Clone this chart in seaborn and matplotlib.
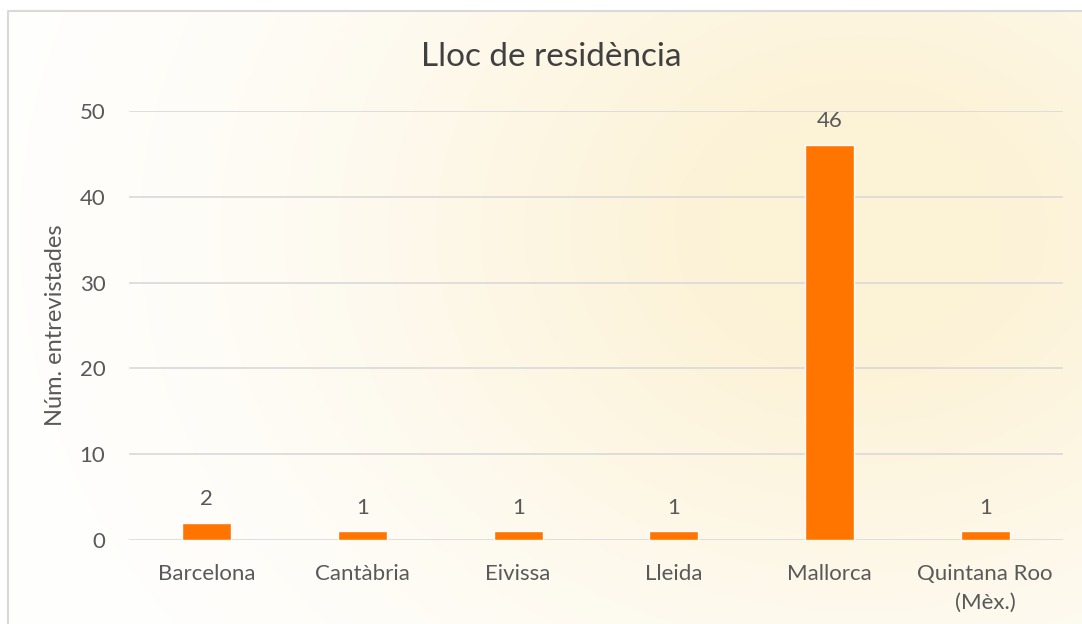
import numpy as np
import pandas as pd
import matplotlib
matplotlib.use("Agg")
import matplotlib.pyplot as plt
import seaborn as sns

llocs = ["Barcelona", "Cantàbria", "Eivissa", "Lleida", "Mallorca", "Quintana Roo\n(Mèx.)"]
entrevistades = [2, 1, 1, 1, 46, 1]
y_ticks = [0, 10, 20, 30, 40, 50]

sns.set_theme(style="white")
plt.rcParams["font.family"] = ["Lato", "DejaVu Sans"]

gris = "#595959"
taronja = "#FF7500"

W, H = 1082, 624
fig = plt.figure(figsize=(W / 100, H / 100), dpi=100)
fig.patch.set_facecolor("white")

# fons amb degradat (caixa del gràfic)
bg = fig.add_axes([0, 0, 1, 1], zorder=0)
bg.set_xlim(0, W)
bg.set_ylim(H, 0)
bg.axis("off")
xx, yy = np.meshgrid(np.arange(W), np.arange(H))
w = np.exp(-(((xx - 860) / 520.0) ** 2 + ((yy - 230) / 420.0) ** 2))
w = np.clip(w * 1.05, 0, 1)
crema = np.array([252, 242, 214]) / 255.0
img = 1 - w[..., None] * (1 - crema)
img[:11, :] = 1
img[:, :8] = 1
bg.imshow(img, extent=(0, W, H, 0), aspect="auto")
bg.plot([8, 8, W], [H, 11, 11], color="#D9D9D9", lw=1.5)

df = pd.DataFrame({"lloc": llocs, "n": entrevistades})

ax = fig.add_axes([129 / W, 1 - 540 / H, (1063 - 129) / W, (540 - 111) / H], zorder=1)
ax.patch.set_alpha(0)
sns.barplot(data=df, x="lloc", y="n", color=taronja, width=0.315,
            saturation=1, ax=ax, zorder=3)

ax.set_ylim(0, 50)
ax.set_xlim(-0.5, len(llocs) - 0.5)
ax.set_yticks(y_ticks)
ax.yaxis.grid(True, color="#D9D9D9", lw=1.2, zorder=0)
ax.set_axisbelow(True)
for s in ax.spines.values():
    s.set_visible(False)
ax.tick_params(axis="both", length=0, colors=gris, labelsize=16)
ax.tick_params(axis="x", pad=17)
ax.tick_params(axis="y", pad=17)
for lab in ax.get_xticklabels():
    lab.set_linespacing(1.6)

for i, v in enumerate(entrevistades):
    ax.annotate(str(v), (i, v), xytext=(0, 10), textcoords="offset points",
                ha="center", va="bottom", color=gris, fontsize=16)

ax.set_xlabel("")
ax.set_ylabel("Núm. entrevistades", color=gris, fontsize=17, labelpad=10)
fig.text(551 / W, 1 - 57 / H, "Lloc de residència", ha="center", va="center",
         color="#404040", fontsize=24)

fig.savefig("out.png", dpi=100)
